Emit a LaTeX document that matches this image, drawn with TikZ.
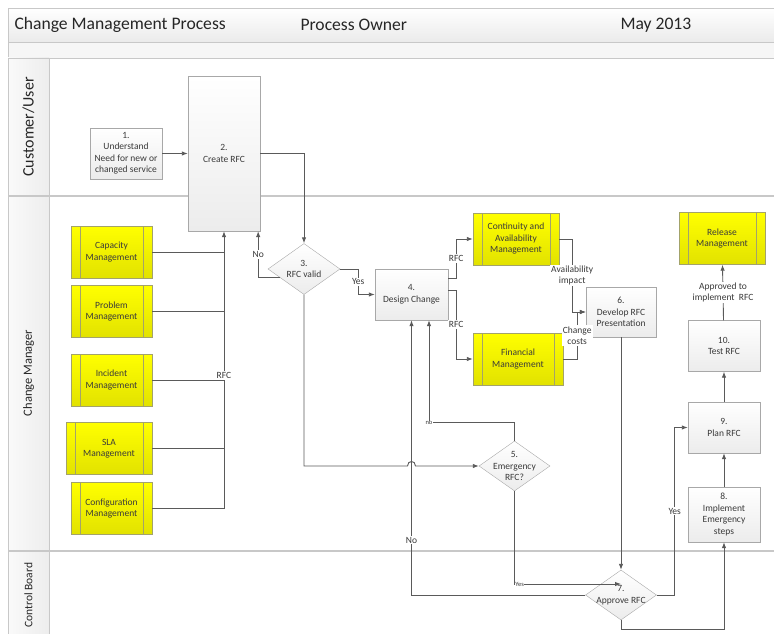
\documentclass[tikz,border=0pt]{standalone}
\usepackage{fontspec}
\setmainfont{Carlito}
\usetikzlibrary{positioning,shapes.geometric,arrows.meta}
\definecolor{linec}{HTML}{5A5A5A}
\definecolor{edgec}{HTML}{A8A8A8}
\definecolor{yedge}{HTML}{A3A36A}
\definecolor{yel}{HTML}{FFFF00}
\definecolor{yeldk}{HTML}{E2E200}
\definecolor{txt}{HTML}{3A3A3A}
\definecolor{lane}{HTML}{C8C8C8}

\begin{document}
\begin{tikzpicture}[x=1pt, y=-1pt, font=\fontsize{9.5}{11.5}\selectfont,
  box/.style={draw=edgec, top color=white, bottom color=gray!15, text=txt, align=center, minimum width=72pt, minimum height=51pt, inner sep=1pt},
  ybox/.style={draw=yedge, top color=yel, bottom color=yeldk, text=txt, align=center, minimum width=81pt, minimum height=52pt, inner sep=1pt,
    path picture={\draw[yedge] ([xshift=9pt]path picture bounding box.north west) -- ([xshift=9pt]path picture bounding box.south west)
      ([xshift=-9pt]path picture bounding box.north east) -- ([xshift=-9pt]path picture bounding box.south east);}},
  dia/.style={diamond, draw=edgec, top color=white, bottom color=gray!15, minimum width=72pt, minimum height=51pt, inner sep=0pt},
  dl/.style={align=center, text=txt},
  ln/.style={draw=linec, line width=0.9pt},
  arr/.style={ln, -{Latex[length=6pt,width=4.5pt]}},
  lbl/.style={fill=white, text=txt, align=center, inner sep=1pt},
  tlbl/.style={fill=white, text=txt, font=\fontsize{6.5}{7}\selectfont, inner sep=0.5pt},
  hdr/.style={anchor=west, text=black!85, font=\fontsize{17.6}{20}\selectfont},
  lt/.style={rotate=90, text=black!85}]
\useasboundingbox (0,0) rectangle (774,634);

% frame and lanes
\draw[draw=lane, top color=white, bottom color=gray!16] (8,8) rectangle (780,42);
\draw[draw=lane, fill=gray!7] (8,42) rectangle (780,58);
\draw[draw=lane, left color=gray!4, right color=gray!14] (8,58) rectangle (49,640);
\draw[lane, line width=1.2pt] (8,196) -- (780,196) (8,551) -- (780,551);

\node[hdr] (title) at (11,25) {Change Management Process};
\node[hdr] (owner) at (297,25) {Process Owner};
\node[hdr] (date) at (617,25) {May 2013};

\node[lt, font=\fontsize{16}{18}\selectfont] (lncust) at (28.5,127) {Customer/User};
\node[lt, font=\fontsize{12.5}{14}\selectfont] (lnchg) at (28.5,373) {Change Manager};
\node[lt, font=\fontsize{11.5}{13}\selectfont] (lnctl) at (28.5,595) {Control Board};

% steps
\node[box] (b1) at (126,153.5) {1.\\Understand\\Need for new or\\changed service};
\node[box, minimum height=155pt] (b2) at (224,153.5) {2.\\Create RFC};
\node[dia, label={[dl]center:3.\\RFC valid}] (d3) at (304,269) {};
\node[box, minimum width=73pt] (b4) at (411.5,294.5) {4.\\Design Change};
\node[ybox, minimum width=86pt] (cont) at (516,239) {Continuity and\\Availability\\Management};
\node[ybox, minimum width=90pt] (fin) at (518,359) {Financial\\Management};
\node[box, minimum width=70pt, minimum height=50pt] (b6) at (621,312) {6.\\Develop RFC\\Presentation};
\node[dia, minimum width=71pt, minimum height=50pt, label={[dl]center:5.\\Emergency\\RFC?}] (d5) at (514.5,466) {};
\node[dia, minimum width=71pt, minimum height=50pt, label={[dl]center:7.\\Approve RFC}] (d7) at (621,595) {};
\node[box, minimum height=55pt] (b8) at (724,514.5) {8.\\Implement\\Emergency\\steps};
\node[box] (b9) at (724,427.5) {9.\\Plan RFC};
\node[box] (b10) at (724,346) {10.\\Test RFC};
\node[ybox, minimum width=86pt] (rel) at (722,238.5) {Release\\Management};

% other processes
\node[ybox] (cap) at (111.5,252) {Capacity\\Management};
\node[ybox] (prob) at (111.5,311.5) {Problem\\Management};
\node[ybox] (inc) at (111.5,380) {Incident\\Management};
\node[ybox, minimum width=86pt] (sla) at (109,448.5) {SLA\\Management};
\node[ybox] (cfg) at (111.5,508.5) {Configuration\\Management};

\coordinate (jmp) at (b4.south |- d5.west);

\foreach \n in {cap,prob,inc,sla}
  \draw[ln] (\n.east) -- (\n.east -| b2.south);
\draw[arr] (cfg.east) -| node[pos=0.74, lbl]{RFC} (b2.south);

\draw[arr] (b1) -- (b2);
\draw[arr] (b2.east) -| (d3.north);
\draw[arr] (d3.200) -| node[pos=0.75, lbl]{No} ([xshift=-2pt]b2.south east);
\draw[arr] (d3.east) -- ++(18,0) |- node[pos=0.25, lbl]{Yes} (b4);
\draw[arr] ([yshift=16.5pt]b4.east) -- ++(8,0) |- node[pos=0.25, lbl]{RFC} (cont);
\draw[arr] ([yshift=4.5pt]b4.east) -- ++(8,0) |- node[pos=0.25, lbl]{RFC} (fin);
\draw[arr] (cont.east) -- ++(13,0) |- node[pos=0.25, lbl]{Availability\\impact} (b6);
\draw[arr] (fin.east) -- ++(14,0) |- node[pos=0.25, lbl]{Change\\costs} (b6);
\draw[arr] (b6) -- (d7);
\draw[arr] (d3.south) |- ([xshift=-4pt]jmp) .. controls ([xshift=-4pt,yshift=6pt]jmp) and ([xshift=4pt,yshift=6pt]jmp) .. ([xshift=4pt]jmp) -- (d5);
\draw[arr] (d5.north) -- ++(0,-18) -| node[pos=0.5, tlbl]{no} ([xshift=17.5pt]b4.south);
\draw[arr] (d5.south) |- node[pos=0.5, anchor=west, tlbl]{Yes} ([yshift=11pt]d7.center);
\draw[arr] (d7.west) -| node[pos=0.6, lbl]{No} (b4.south);
\draw[arr] (d7.east) -- ++(18,0) |- node[pos=0.25, lbl]{Yes} (b9);
\draw[arr] (d7.south) -- ++(0,9) -| (b8.south);
\draw[arr] (b8) -- (b9);
\draw[arr] (b9) -- (b10);
\draw[arr] (b10) -- node[lbl]{Approved to\\implement\ \ RFC} (rel);
\end{tikzpicture}
\end{document}
